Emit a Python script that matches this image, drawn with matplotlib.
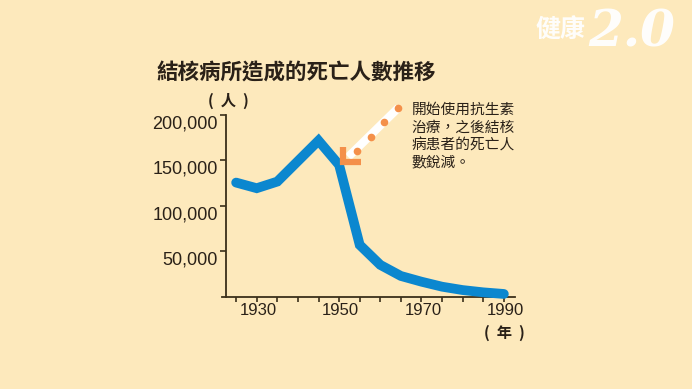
import matplotlib
matplotlib.use("Agg")
import matplotlib.pyplot as plt
import matplotlib.transforms as mtransforms

# ---- data ----
years = [1925, 1930, 1935, 1945, 1950, 1955, 1960, 1965, 1970, 1975, 1980, 1985, 1990]
deaths = [125600, 119400, 126700, 171800, 145000, 57000, 35000, 22800, 16500, 11000, 7300, 4800, 3000]
y_ticks = [50000, 100000, 150000, 200000]
y_tick_labels = ["50,000", "100,000", "150,000", "200,000"]
x_label_years = [1930, 1950, 1970, 1990]
x_minor_years = list(range(1925, 1991, 5))
title = "結核病所造成的死亡人數推移"
note_lines = ["開始使用抗生素", "治療，之後結核", "病患者的死亡人", "數銳減。"]

BG = "#fde9bc"
BLUE = "#0b87cf"
ORANGE = "#f4904a"
AX = "#3b2f1a"
TXT = "#2a2118"
CJK = ["Noto Sans CJK TC", "DejaVu Sans"]
NUM = ["Liberation Sans", "DejaVu Sans"]

fig = plt.figure(figsize=(6.92, 3.89), dpi=100, facecolor=BG)
ax = fig.add_axes([0.3204, 0.2373, 0.4238, 0.4671])
ax.set_facecolor(BG)
ax.set_xlim(1921.5, 1992.7)
ax.set_ylim(0, 200000)

for s in ["top", "right"]:
    ax.spines[s].set_visible(False)
ax.spines["left"].set_position(("data", 1922.6))
for s in ["left", "bottom"]:
    ax.spines[s].set_color(AX)
    ax.spines[s].set_linewidth(1.3)

ax.set_yticks(y_ticks + [0])
ax.set_yticklabels([])
ax.set_xticks(x_minor_years)
ax.set_xticklabels([])
ax.tick_params(axis="y", direction="out", length=4, width=1.2, color=AX)
ax.tick_params(axis="x", direction="out", length=3.5, width=1.2, color=AX)
ax.yaxis.get_major_ticks()[-1].tick1line.set_visible(False)

# y labels (drawn slightly below their ticks as in the reference)
tr_y = mtransforms.blended_transform_factory(ax.transAxes, ax.transData)
for v, lab in zip(y_ticks, y_tick_labels):
    t = mtransforms.offset_copy(tr_y, fig=fig, x=-4, y=-9, units="dots")
    ax.text(0.0, v, lab, transform=t, ha="right", va="center",
            fontsize=13, family=NUM, color=TXT)

# x labels
tr_x = mtransforms.blended_transform_factory(ax.transData, ax.transAxes)
for yr in x_label_years:
    t = mtransforms.offset_copy(tr_x, fig=fig, x=1.5, y=-14, units="dots")
    ax.text(yr, 0, str(yr), transform=t, ha="center", va="center",
            fontsize=12, family=NUM, color=TXT)

# data line
ax.plot(years, deaths, color=BLUE, lw=7, solid_joinstyle="miter",
        solid_capstyle="round", clip_on=False, zorder=3)

# arrow annotation (white band with orange dots + orange L head)
ax.plot([1964.4, 1952.2], [208000, 153800], color="white", lw=6,
        solid_capstyle="butt", clip_on=False, zorder=4)
ax.plot([1964.4, 1961.0, 1957.7, 1954.3], [208000, 192000, 176000, 160800],
        "o", color=ORANGE, ms=5.5, mec="none", clip_on=False, zorder=5)
ax.plot([1950.9, 1950.9, 1955.2], [164500, 148400, 148400], color=ORANGE,
        lw=4.5, solid_joinstyle="miter", solid_capstyle="butt",
        clip_on=False, zorder=5)

# texts
fig.text(296 / 692, 1 - 73 / 389, title, ha="center", va="center",
         fontsize=15.5, fontweight="bold", family=CJK, color=TXT)
fig.text(228 / 692, 1 - 101 / 389, "(  人  )", ha="center", va="center",
         fontsize=11, fontweight="bold", family=CJK, color=TXT)
fig.text(504 / 692, 1 - 333 / 389, "(  年  )", ha="center", va="center",
         fontsize=11, fontweight="bold", family=CJK, color=TXT)
for i, line in enumerate(note_lines):
    fig.text(411.5 / 692, 1 - (110 + i * 17.6) / 389, line, ha="left",
             va="center", fontsize=10.6, fontweight="medium", family=CJK,
             color=TXT)

# watermark logo
fig.text(560 / 692, 1 - 30 / 389, "健康", ha="center", va="center",
         fontsize=18, fontweight="bold", family=CJK, color="white",
         style="italic", alpha=0.95)
fig.text(632 / 692, 1 - 33 / 389, "2.0", ha="center", va="center",
         fontsize=36, fontweight="bold", family=["DejaVu Serif"],
         color="white", style="italic", alpha=0.95)

fig.savefig("out.png", dpi=100, facecolor=BG)
